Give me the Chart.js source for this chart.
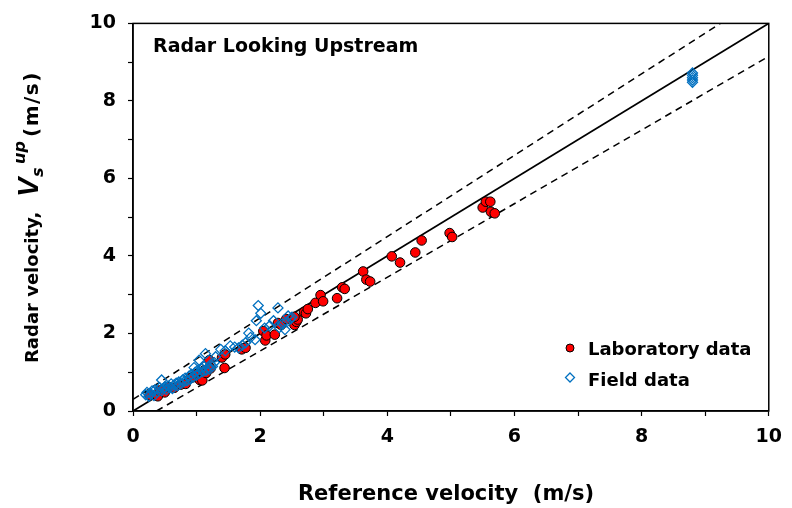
<!DOCTYPE html>
<html>
<head>
<meta charset="utf-8">
<script src="https://cdn.jsdelivr.net/npm/chart.js@4/dist/chart.umd.min.js"></script>
<style>
  html, body { margin: 0; padding: 0; background: #fff; }
  #wrap { width: 792px; height: 508px; }
</style>
</head>
<body>
<div id="wrap"><canvas id="grafica"></canvas></div>
<script>
// Laboratory data (red circles)
const labX = [0.26, 0.39, 0.42, 0.50, 0.57, 0.65, 0.75, 0.83, 0.90, 0.94, 1.00, 1.05, 1.09, 1.12, 1.15, 1.20, 1.22,
  1.40, 1.44, 1.45, 1.71, 1.77, 2.05, 2.08, 2.10, 2.23, 2.28, 2.33, 2.41, 2.54, 2.57, 2.59, 2.54, 2.69, 2.72, 2.75,
  2.87, 2.95, 2.99, 3.21, 3.29, 3.33, 3.62, 3.67, 3.73, 4.07, 4.20, 4.44, 4.54, 4.98, 5.02, 5.50, 5.55, 5.62, 5.63, 5.69];
const labY = [0.41, 0.38, 0.53, 0.48, 0.62, 0.60, 0.68, 0.70, 0.85, 0.87, 0.95, 0.80, 0.79, 1.05, 0.98, 1.31, 1.10,
  1.38, 1.11, 1.46, 1.59, 1.63, 2.06, 1.82, 1.95, 1.97, 2.27, 2.22, 2.37, 2.22, 2.30, 2.36, 2.43, 2.55, 2.52, 2.63,
  2.79, 2.99, 2.83, 2.91, 3.19, 3.15, 3.60, 3.39, 3.34, 3.99, 3.83, 4.09, 4.40, 4.59, 4.49, 5.25, 5.40, 5.40, 5.14, 5.10];

// Field data (blue diamonds)
const fieldX = [0.20, 0.22, 0.25, 0.28, 0.30, 0.33, 0.35, 0.38, 0.42, 0.45, 0.45, 0.48, 0.50, 0.52, 0.55, 0.58, 0.60,
  0.62, 0.65, 0.68, 0.70, 0.72, 0.75, 0.78, 0.80, 0.82, 0.85, 0.88, 0.90, 0.92, 0.95, 0.96, 0.98, 1.00, 1.02, 1.04,
  1.05, 1.08, 1.10, 1.12, 1.14, 1.15, 1.18, 1.20, 1.22, 1.25, 1.28, 1.30, 1.38, 1.45, 1.53, 1.60, 1.66, 1.72, 1.77,
  1.82, 1.85, 1.92, 1.94, 1.97, 2.01, 2.07, 2.15, 2.21, 2.28, 2.30, 2.35, 2.39, 2.42, 2.44, 2.48, 2.50,
  8.80, 8.80, 8.80, 8.80, 8.80];
const fieldY = [0.42, 0.48, 0.38, 0.45, 0.52, 0.40, 0.55, 0.48, 0.60, 0.80, 0.52, 0.58, 0.62, 0.55, 0.65, 0.60, 0.70,
  0.58, 0.68, 0.72, 0.65, 0.75, 0.70, 0.80, 0.75, 0.85, 0.78, 0.90, 0.82, 0.95, 0.88, 1.12, 1.00, 0.92, 1.05, 1.31,
  0.98, 1.10, 1.02, 1.15, 1.48, 1.05, 1.12, 1.08, 1.20, 1.15, 1.25, 1.40, 1.59, 1.55, 1.68, 1.65, 1.63, 1.70, 1.76,
  2.01, 1.90, 1.84, 2.33, 2.72, 2.52, 2.14, 2.20, 2.33, 2.66, 2.15, 2.25, 2.10, 2.30, 2.45, 2.38, 2.42,
  8.48, 8.54, 8.60, 8.66, 8.72];

// 1:1 line and error bounds
const lineX = [0, 10];
const lineY = [0, 10];
const upperX = [0, 9.24];
const upperY = [0.3, 10];
const lowerX = [0.37, 10];
const lowerY = [0, 9.15];

const xTicks = [0, 2, 4, 6, 8, 10];
const yTicks = [0, 2, 4, 6, 8, 10];

const toPts = (xs, ys) => xs.map((x, i) => ({ x: x, y: ys[i] }));

const FONT = "'Liberation Sans', Arial, sans-serif";
const WIDE = "'DejaVu Sans', 'Liberation Sans', sans-serif";

// Marco, título interior, leyenda y títulos de ejes
const extras = {
  id: "extras",
  afterDraw(chart) {
    const { ctx, chartArea: a } = chart;
    ctx.save();
    ctx.strokeStyle = "#000";
    ctx.lineWidth = 1.5;
    ctx.strokeRect(a.left, a.top, a.right - a.left, a.bottom - a.top);

    // leyenda
    ctx.beginPath();
    ctx.arc(570, 348, 4, 0, Math.PI * 2);
    ctx.fillStyle = "#ff0000";
    ctx.fill();
    ctx.lineWidth = 1;
    ctx.strokeStyle = "#000";
    ctx.stroke();
    ctx.beginPath();
    ctx.moveTo(570, 373); ctx.lineTo(574.5, 377.5); ctx.lineTo(570, 382); ctx.lineTo(565.5, 377.5); ctx.closePath();
    ctx.strokeStyle = "#0070c0";
    ctx.lineWidth = 1.3;
    ctx.stroke();

    ctx.fillStyle = "#000";
    ctx.textBaseline = "alphabetic";
    ctx.textAlign = "left";
    ctx.font = "bold 18px " + WIDE;
    ctx.fillText("Laboratory data", 588, 355);
    ctx.fillText("Field data", 588, 386);
    ctx.font = "bold 19px " + WIDE;
    ctx.fillText("Radar Looking Upstream", 153, 52);

    // título eje X
    ctx.font = "bold 21px " + WIDE;
    ctx.textAlign = "center";
    ctx.fillText("Reference velocity  (m/s)", 446, 500);
    ctx.textAlign = "left";

    // título eje Y con sub/superíndice
    ctx.translate(38, 363);
    ctx.rotate(-Math.PI / 2);
    ctx.font = "bold 18px " + WIDE;
    ctx.fillText("Radar velocity,", 0, 0);
    ctx.font = "italic bold 29px " + FONT;
    ctx.fillText("V", 166, 0);
    ctx.font = "italic bold 16px " + WIDE;
    ctx.fillText("s", 186, 5);
    ctx.fillText("up", 199, -13);
    ctx.font = "bold 20px " + WIDE;
    ctx.letterSpacing = "1.5px";
    ctx.fillText("(m/s)", 226, 0);
    ctx.restore();
  },
};

const tickFont = { family: WIDE, size: 19, weight: "bold" };

new Chart(document.getElementById("grafica"), {
  type: "scatter",
  data: {
    datasets: [
      {
        label: "1:1",
        type: "line",
        data: toPts(lineX, lineY),
        borderColor: "#000",
        borderWidth: 1.8,
        pointRadius: 0,
        fill: false,
        order: 5,
      },
      {
        label: "upper",
        type: "line",
        data: toPts(upperX, upperY),
        borderColor: "#000",
        borderWidth: 1.5,
        borderDash: [7, 5],
        pointRadius: 0,
        fill: false,
        order: 5,
      },
      {
        label: "lower",
        type: "line",
        data: toPts(lowerX, lowerY),
        borderColor: "#000",
        borderWidth: 1.5,
        borderDash: [7, 5],
        pointRadius: 0,
        fill: false,
        order: 5,
      },
      {
        label: "Laboratory data",
        data: toPts(labX, labY),
        backgroundColor: "#ff0000",
        borderColor: "#000",
        borderWidth: 1,
        pointRadius: 4.8,
        order: 2,
      },
      {
        label: "Field data",
        data: toPts(fieldX, fieldY),
        pointStyle: "rectRot",
        backgroundColor: "rgba(255,255,255,0)",
        borderColor: "#0070c0",
        borderWidth: 1.3,
        pointRadius: 5,
        order: 1,
      },
    ],
  },
  options: {
    responsive: true,
    maintainAspectRatio: false,
    animation: false,
    layout: { padding: { top: 17, right: 7, left: 0, bottom: 0 } },
    plugins: {
      legend: { display: false },
      tooltip: { enabled: false },
    },
    scales: {
      x: {
        type: "linear",
        min: 0,
        max: 10,
        afterFit: s => { s.height = 97; },
        afterBuildTicks: s => { s.ticks = [0,1,2,3,4,5,6,7,8,9,10].map(v => ({ value: v })); },
        ticks: {
          color: "#000",
          font: tickFont,
          padding: 10,
          maxRotation: 0,
          callback: v => (xTicks.includes(v) ? String(v) : ""),
        },
        grid: { drawOnChartArea: false, tickLength: 5, color: "#000", tickWidth: 1.2 },
        border: { color: "#000", width: 1.5 },
      },
      y: {
        type: "linear",
        min: 0,
        max: 10,
        afterFit: s => { s.width = 133; },
        afterBuildTicks: s => { s.ticks = [0,1,2,3,4,5,6,7,8,9,10].map(v => ({ value: v })); },
        ticks: {
          color: "#000",
          font: tickFont,
          padding: 12,
          callback: v => (yTicks.includes(v) ? String(v) : ""),
        },
        grid: { drawOnChartArea: false, tickLength: 5, color: "#000", tickWidth: 1.2 },
        border: { color: "#000", width: 1.5 },
      },
    },
  },
  plugins: [extras],
});
</script>
</body>
</html>
